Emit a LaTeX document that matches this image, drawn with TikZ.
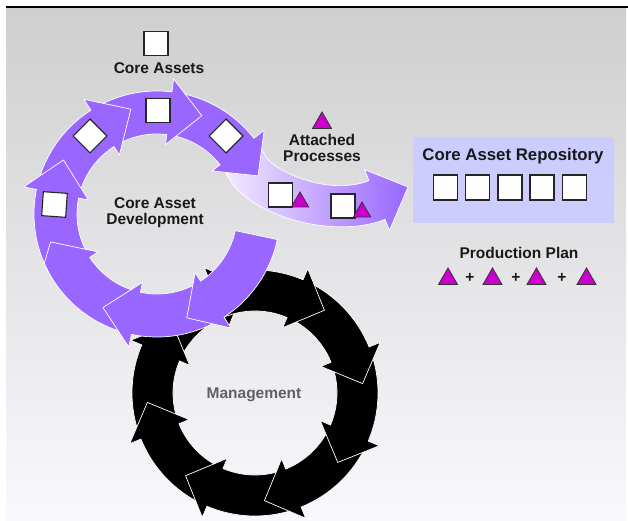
\documentclass[tikz,border=0pt]{standalone}
\usepackage{fontspec}
\setmainfont{Liberation Sans}
\usetikzlibrary{shapes.geometric}
\definecolor{purp}{HTML}{9966FF}
\definecolor{lpurp}{HTML}{F4EEFF}
\definecolor{mpurp}{HTML}{D2BDFF}
\definecolor{repo}{HTML}{CCCCFF}
\definecolor{tricol}{HTML}{CC00CC}
\definecolor{bgtop}{HTML}{CFCFCF}
\definecolor{bgbot}{HTML}{F9F8FD}
\newcommand{\ringarrow}[4]{%
  \filldraw[#1] plot[domain=#2:#3, samples=30] ({\cx+\ro*cos(\x)},{\cy+\ro*sin(\x)})
   -- ({\cx+\wo*cos(#3)},{\cy+\wo*sin(#3)})
   -- ({\cx+\rt*cos(#4)},{\cy+\rt*sin(#4)})
   -- ({\cx+\wi*cos(#3)},{\cy+\wi*sin(#3)})
   -- plot[domain=#3:#2, samples=30] ({\cx+\ri*cos(\x)},{\cy+\ri*sin(\x)}) -- cycle;}
\begin{document}
\begin{tikzpicture}[x=1pt,y=-1pt,
  lbl/.style={font=\fontsize{15.5}{16}\selectfont\bfseries, text=black!90, align=center, inner sep=0},
  sq/.style={draw=black!85, fill=white, line width=1.1pt, minimum width=24pt, minimum height=24pt, inner sep=0},
  dm/.style={sq, rotate=45},
  tr/.style={regular polygon, regular polygon sides=3, draw=black!80, fill=tricol, line width=0.8pt, minimum size=22pt, inner sep=0},
  str/.style={tr, minimum size=20pt},
  parr/.style={fill=purp, draw=white, line width=0.7pt},
  barr/.style={fill=black, draw=white, line width=0.7pt}]
\useasboundingbox (0,0) rectangle (628,521);
\shade[top color=bgtop, bottom color=bgbot] (6,8) rectangle (626,521);
\draw[line width=1.6pt] (6,7) -- (628,7);

% Management ring (black)
\def\cx{255}\def\cy{393}\def\ri{82}\def\ro{123}\def\wi{71}\def\wo{135}\def\rt{108}
\ringarrow{barr}{203}{248}{265}
\ringarrow{barr}{158}{203}{220}
\ringarrow{barr}{113}{158}{175}
\ringarrow{barr}{68}{113}{130}
\ringarrow{barr}{23}{68}{85}
\ringarrow{barr}{338}{383}{400}
\ringarrow{barr}{293}{338}{355}
\ringarrow{barr}{248}{293}{310}
\node[lbl, text=black!62] (mgmt) at (254,395) {Management};

% Attached processes arrow
\shadedraw[draw=white, line width=0.7pt, left color=lpurp, middle color=mpurp, right color=purp]
  plot[domain=322:332,samples=8] ({157+123*cos(\x)},{214+123*sin(\x)})
  .. controls (272.6,169.5) and (327,197) .. (369,180.6) -- (364.5,169.6) -- (408,187)
  -- (389.5,230.4) -- (385,219.4) .. controls (333.8,239.8) and (248.8,216) .. (227.6,176.4)
  -- plot[domain=332:322,samples=8] ({157+80*cos(\x)},{214+80*sin(\x)}) -- cycle;

% Core asset development ring (purple)
\def\cx{157}\def\cy{214}\def\ri{80}\def\ro{123}\def\wi{70}\def\wo{136}\def\rt{108}
\ringarrow{parr}{277}{322}{339.3}
\ringarrow{parr}{237.5}{277}{294.5}
\ringarrow{parr}{191.5}{237.5}{256}
\ringarrow{parr}{147}{191.5}{210}
% lower-left arrow: head tucked into the next arrow, no outer wing
\filldraw[parr] plot[domain=102:156.4, samples=30] ({\cx+\ro*cos(\x)},{\cy+\ro*sin(\x)})
   -- ({\cx+110*cos(165.3)},{\cy+110*sin(165.3)})
   -- ({\cx+70*cos(147.2)},{\cy+70*sin(147.2)})
   -- ({\cx+\ri*cos(147.2)},{\cy+\ri*sin(147.2)})
   -- plot[domain=147.2:102, samples=30] ({\cx+\ri*cos(\x)},{\cy+\ri*sin(\x)}) -- cycle;
\ringarrow{parr}{57}{102}{120}
\ringarrow{parr}{12}{57}{74}

% icons on the ring
\node[sq, rotate=-4] (r1) at (54.5,204.5) {};
\node[dm] (r2) at (90,136) {};
\node[sq] (r3) at (158,110.5) {};
\node[dm] (r4) at (226,136) {};
\node[lbl] (cad) at (155,212.5) {Core Asset\\Development};

% core assets
\node[sq] (ca) at (156,43.5) {};
\node[lbl] (calbl) at (159,68) {Core Assets};

% attached processes
\node[tr] (aptri) at (322,123) {};
\node[lbl] (aplbl) at (322,147.5) {Attached\\Processes};
\node[sq] (a1) at (280.5,195) {};
\node[str] (a1t) at (300,202) {};
\node[sq] (a2) at (343,206) {};
\node[str] (a2t) at (362,212) {};

% repository
\node[fill=repo, minimum width=201pt, minimum height=86pt, inner sep=0] (repo) at (513.5,180) {};
\node[lbl, font=\fontsize{16.8}{18}\selectfont\bfseries] (repolbl) at (513,156) {Core Asset Repository};
\node[sq, minimum height=25pt] (s1) at (445.3,187.5) {};
\node[sq, minimum height=25pt] (s2) at (477.7,187.5) {};
\node[sq, minimum height=25pt] (s3) at (510,187.5) {};
\node[sq, minimum height=25pt] (s4) at (542,187.5) {};
\node[sq, minimum height=25pt] (s5) at (574.3,187.5) {};

% production plan
\node[lbl] (pplbl) at (519,253) {Production Plan};
\node[tr] (p1) at (448,279) {};
\node[tr] (p2) at (492.5,279) {};
\node[tr] (p3) at (536.5,279) {};
\node[tr] (p4) at (586.5,279) {};
\node[lbl] (plus1) at (470,278) {+};
\node[lbl] (plus2) at (516,278) {+};
\node[lbl] (plus3) at (562,278) {+};
\end{tikzpicture}
\end{document}
